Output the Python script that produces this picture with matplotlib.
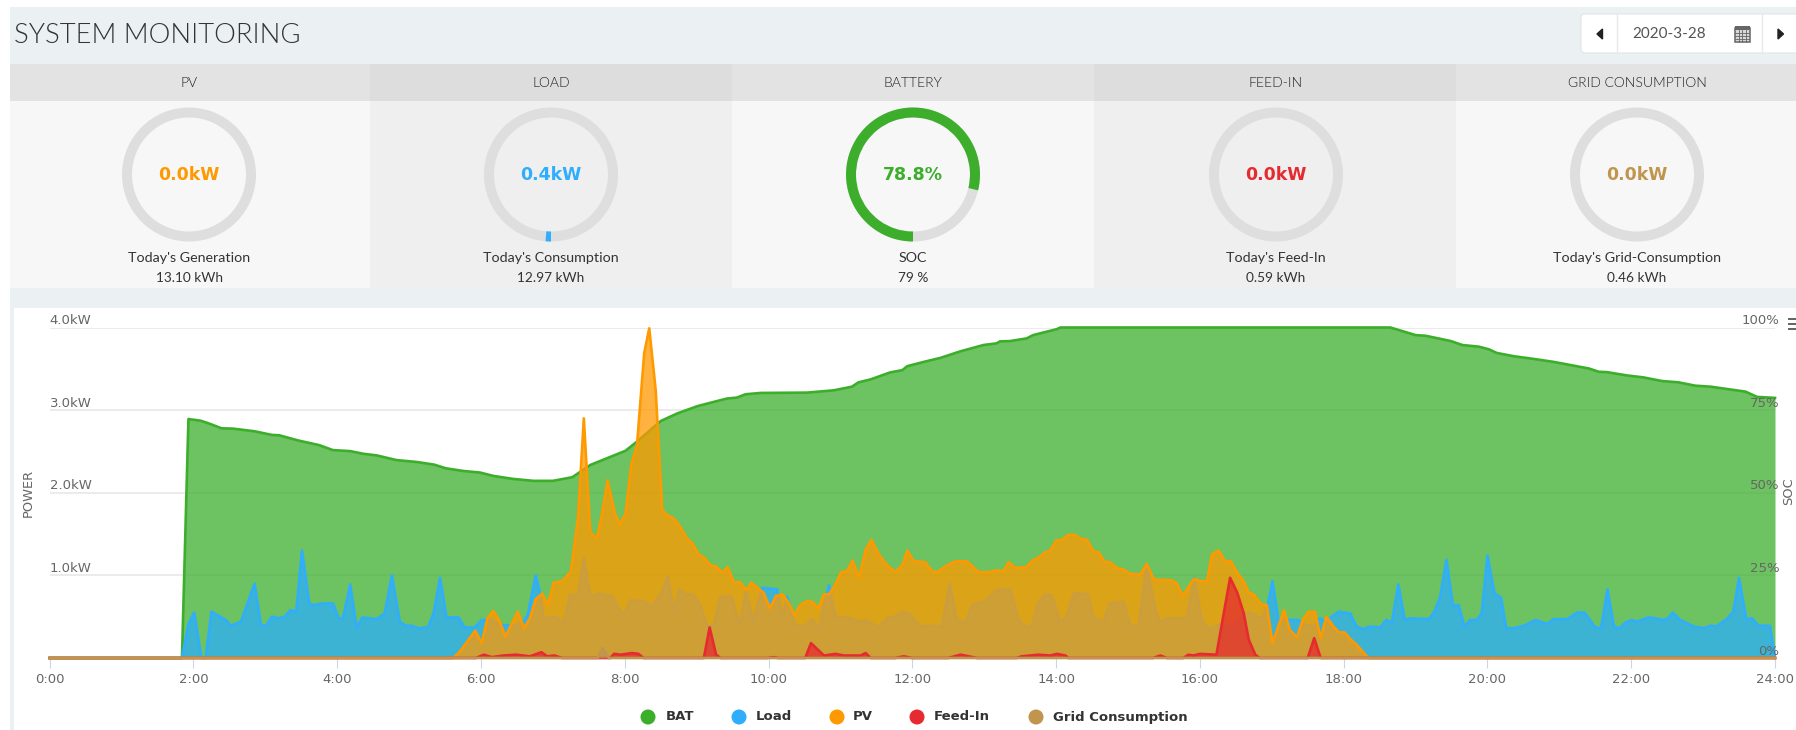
import matplotlib
matplotlib.use("Agg")
import matplotlib.pyplot as plt
from matplotlib.patches import Rectangle, Wedge, Circle, Polygon, FancyBboxPatch
from matplotlib.transforms import ScaledTranslation

W, H = 1796, 730

# card row
card_titles = ["PV", "LOAD", "BATTERY", "FEED-IN", "GRID CONSUMPTION"]
card_values = ["0.0kW", "0.4kW", "78.8%", "0.0kW", "0.0kW"]
card_fracs = [0.0, 0.013, 0.788, 0.0, 0.0]
card_labels = ["Today's Generation", "Today's Consumption", "SOC", "Today's Feed-In", "Today's Grid-Consumption"]
card_totals = ["13.10 kWh", "12.97 kWh", "79 %", "0.59 kWh", "0.46 kWh"]
card_colors = ["#ff9900", "#2eaefc", "#3cae2c", "#e52b2f", "#c0954e"]

# series, hours / kW (BAT in %)
bat_t = [0, 1.84, 1.93, 2.10, 2.21, 2.39, 2.55, 2.85, 3.09, 3.19, 3.46, 3.75, 3.94, 4.18, 4.36, 4.55, 4.82,
         5.11, 5.35, 5.51, 5.75, 5.99, 6.17, 6.44, 6.73, 7.0, 7.27, 7.52, 8.01, 8.17, 8.5, 8.73, 9.01, 9.24,
         9.42, 9.56, 9.68, 9.89, 10.54, 10.91, 11.16, 11.25, 11.42, 11.69, 11.86, 11.93, 12.16, 12.39, 12.67,
         12.99, 13.17, 13.22, 13.36, 13.59, 13.68, 14.01, 14.06, 18.65, 19.0, 19.14, 19.49, 19.65, 19.88,
         20.02, 20.13, 20.37, 20.64, 20.92, 21.41, 21.55, 21.66, 21.94, 22.17, 22.43, 22.66, 22.89, 23.1,
         23.33, 23.59, 23.75, 24]
bat_v = [0, 0, 72.3, 71.8, 71, 69.5, 69.4, 68.6, 67.5, 67.4, 65.8, 64.4, 62.9, 62.6, 61.8, 61.3, 59.9,
         59.3, 58.5, 57.4, 56.6, 56.1, 55.1, 54.2, 53.6, 53.6, 54.7, 58.4, 62.7, 65.5, 71.7, 74, 76.2, 77.5,
         78.5, 78.8, 79.8, 80.2, 80.3, 81, 82.1, 83.4, 84.3, 86.4, 87.1, 88.3, 89.6, 90.8, 92.8,
         94.7, 95.2, 95.8, 95.9, 96.7, 97.7, 99.5, 100, 100, 97.7, 97.5, 95.9, 94.7, 94.2,
         93.4, 92.3, 91.3, 90.5, 89.6, 87.6, 86.6, 86.5, 85.5, 84.9, 83.8, 83.4, 82.4, 82.1,
         81.4, 80.6, 79, 78.7]

load_t = [0, 1.84, 1.93, 2.01, 2.11, 2.17, 2.25, 2.37, 2.45, 2.52, 2.66, 2.85, 2.94, 3.01, 3.09, 3.19, 3.27,
          3.35, 3.43, 3.51, 3.61, 3.68, 3.78, 3.94, 4.02, 4.08, 4.18, 4.27, 4.35, 4.55, 4.66, 4.76, 4.87,
          4.95, 5.03, 5.14, 5.26, 5.34, 5.43, 5.52, 5.69, 5.77, 5.91, 6.01, 6.15, 6.25, 6.44, 6.57, 6.65,
          6.76, 6.83, 6.87, 7.04, 7.15, 7.24, 7.35, 7.43, 7.52, 7.62, 7.82, 7.96, 8.01, 8.08, 8.29, 8.36,
          8.5, 8.6, 8.68, 8.76, 8.84, 8.94, 9.03, 9.15, 9.24, 9.33, 9.49, 9.6, 9.69, 9.78, 9.91, 10.12,
          10.19, 10.26, 10.37, 10.49, 10.61, 10.69, 10.84, 10.93, 11.14, 11.25, 11.35, 11.53, 11.65, 11.76,
          11.86, 11.95, 12.11, 12.3, 12.41, 12.52, 12.62, 12.74, 12.83, 13.01, 13.17, 13.36, 13.48, 13.57,
          13.66, 13.75, 13.85, 13.94, 14.05, 14.15, 14.25, 14.44, 14.52, 14.66, 14.75, 14.94, 15.03, 15.15,
          15.26, 15.38, 15.45, 15.54, 15.82, 15.92, 16.03, 16.14, 16.26, 16.45, 16.63, 16.72, 16.86, 16.95,
          17.01, 17.09, 17.37, 17.46, 17.58, 17.67, 17.74, 17.93, 18.09, 18.18, 18.27, 18.37, 18.51, 18.59,
          18.67, 18.76, 18.85, 18.93, 19.18, 19.25, 19.34, 19.43, 19.52, 19.6, 19.68, 19.76, 19.85, 19.92,
          20.0, 20.1, 20.19, 20.26, 20.37, 20.51, 20.67, 20.83, 20.92, 21.11, 21.25, 21.35, 21.5, 21.58,
          21.67, 21.76, 21.84, 21.92, 22.01, 22.08, 22.24, 22.34, 22.44, 22.5, 22.58, 22.68, 22.87, 23.01,
          23.1, 23.18, 23.33, 23.42, 23.5, 23.6, 23.68, 23.77, 23.93, 24]
load_v = [0, 0, .41, .55, 0, 0, .56, .5, .46, .39, .44, .9, .39, .39, .5, .48, .5,
          .58, .56, 1.3, .66, .64, .66, .66, .48, .48, .89, .37, .49, .47, .54, 1.0, .44,
          .39, .39, .36, .37, .54, .97, .49, .49, .37, .37, .46, .46, .4, .39, .42, .52,
          1.0, .75, .48, .5, .42, .77, .75, 1.21, .73, .78, .75, .54, .55, .7, .68, .6,
          .77, .99, .56, .83, .77, .77, .68, .38, .4, .74, .74, .38, .83, .43, .85, .83,
          .48, .74, .4, .38, .47, .34, .88, .5, .48, .44, .46, .37, .48, .5,
          .56, .54, .38, .39, .37, .9, .46, .42, .64, .68, .82, .83, .46, .38,
          .38, .66, .77, .76, .44, .5, .79, .77, .48, .44, .66, .68, .39, .39,
          1.13, .58, .42, .48, .48, .97, .44, .35, .4, .38, .54, .54, .47, .66,
          .93, .46, .46, .4, .38, .48, .44, .56, .54, .38, .35, .38, .37, .46,
          .43, .89, .46, .48, .47, .54, .73, 1.19, .63, .64, .38, .46, .46, .54,
          1.24, .78, .73, .36, .36, .39, .46, .41, .47, .47, .55, .55, .37, .36,
          .83, .38, .36, .43, .46, .44, .49, .48, .46, .47, .55, .46, .38, .36,
          .39, .38, .47, .56, .97, .47, .48, .39, .39, 0]

pv_t = [0, 5.61, 5.69, 5.92, 6.01, 6.09, 6.17, 6.25, 6.34, 6.51, 6.6, 6.68, 6.76, 6.85, 6.93, 7.01, 7.13, 7.25,
        7.35, 7.43, 7.52, 7.61, 7.68, 7.76, 7.86, 7.93, 8.01, 8.09, 8.17, 8.27, 8.34, 8.43, 8.52, 8.59, 8.68,
        8.77, 8.87, 8.94, 9.03, 9.1, 9.19, 9.27, 9.35, 9.43, 9.52, 9.6, 9.69, 9.76, 9.93, 10.02, 10.1, 10.19,
        10.27, 10.36, 10.44, 10.54, 10.61, 10.69, 10.77, 10.84, 10.93, 11.01, 11.09, 11.17, 11.26, 11.35,
        11.43, 11.53, 11.63, 11.76, 11.86, 11.93, 12.02, 12.18, 12.27, 12.35, 12.48, 12.6, 12.76, 12.92,
        13.08, 13.17, 13.27, 13.34, 13.43, 13.59, 13.67, 13.75, 13.85, 13.92, 14.0, 14.08, 14.17, 14.26,
        14.34, 14.43, 14.52, 14.59, 14.68, 14.75, 14.84, 14.94, 15.02, 15.17, 15.26, 15.36, 15.61, 15.68,
        15.76, 15.92, 16.0, 16.1, 16.17, 16.26, 16.35, 16.43, 16.52, 16.61, 16.68, 16.75, 16.85, 16.93,
        17.01, 17.09, 17.17, 17.25, 17.35, 17.43, 17.51, 17.6, 17.68, 17.76, 17.86, 17.93, 18.01, 18.09,
        18.18, 18.32, 18.36, 24]
pv_v = [0, 0, .06, .33, .18, .48, .57, .46, .26, .56, .36, .48, .71, .78, .64, .91, .93, 1.05,
        1.71, 2.9, 1.52, 1.45, 1.73, 2.15, 1.76, 1.61, 1.75, 2.34, 2.58, 3.69, 3.99, 3.24, 1.79, 1.73, 1.69,
        1.59, 1.44, 1.39, 1.25, 1.22, 1.12, 1.11, 1.03, 1.1, .91, .92, .82, .91, .79, .6, .75, .77,
        .68, .52, .64, .69, .68, .6, .77, .77, .89, 1.04, 1.05, 1.18, .97, 1.31,
        1.43, 1.26, 1.14, 1.04, 1.12, 1.3, 1.17, 1.16, 1.05, 1.04, 1.12, 1.17, 1.17, 1.04,
        1.04, 1.06, 1.05, 1.16, 1.09, 1.1, 1.18, 1.21, 1.28, 1.3, 1.42, 1.43, 1.49, 1.49,
        1.44, 1.43, 1.29, 1.28, 1.16, 1.16, 1.09, 1.07, 1.02, 1.01, 1.14, .95, .94, .9,
        .75, .96, .93, .93, 1.26, 1.3, 1.17, 1.17, 1.03, .93, .79, .77, .65, .64,
        .18, .38, .58, .34, .25, .46, .56, .56, .24, .5, .38, .31, .31, .23,
        .16, .02, 0, 0]

feed_t = [0, 5.93, 6.04, 6.15, 6.31, 6.49, 6.68, 6.84, 6.92, 7.02, 7.13, 7.8, 7.85, 7.94, 8.1, 8.19, 8.26, 9.1,
          9.18, 9.27, 9.33, 9.98, 10.07, 10.14, 10.51, 10.59, 10.77, 10.93, 11.05, 11.28, 11.35, 11.42, 11.76,
          11.88, 12.0, 12.5, 12.67, 12.9, 13.45, 13.52, 13.64, 13.75, 13.92, 14.01, 14.13, 14.17, 15.35, 15.45,
          15.54, 15.77, 15.84, 15.91, 16.0, 16.23, 16.42, 16.52, 16.61, 16.68, 16.77, 16.83, 17.5, 17.59, 17.68, 24]
feed_v = [0, 0, .04, .01, .03, .04, .02, .07, .02, .03, 0, 0, .05, .04, .06, .05, 0, 0,
          .37, .04, 0, 0, .01, 0, 0, .18, .03, .05, .03, .03, .06, 0, 0,
          .02, 0, 0, .04, 0, 0, .02, .03, .04, .03, .05, .03, 0, 0, .03,
          0, 0, .04, .03, .05, .04, .97, .79, .54, .22, .04, 0, 0, .24, 0, 0]

grid_t = [0, 7.62, 7.69, 7.78, 24]
grid_v = [0, 0, .12, 0, 0]

series_names = ["BAT", "Load", "PV", "Feed-In", "Grid Consumption"]
series_colors = ["#3cae2c", "#2eaefc", "#ff9900", "#e52b2f", "#c0954e"]
legend_marker_x = [648, 739, 837, 917, 1036]
legend_text_x = [666, 756, 853, 934, 1053]

hours = list(range(0, 25, 2))
hour_labels = [f"{h}:00" for h in hours]
kw_ticks = [0, 1, 2, 3, 4]
kw_labels = ["", "1.0kW", "2.0kW", "3.0kW", "4.0kW"]
pct_ticks = [0, 25, 50, 75, 100]
pct_labels = ["0%", "25%", "50%", "75%", "100%"]

fig = plt.figure(figsize=(W / 100, H / 100), dpi=100, facecolor="white")

# page furniture in pixel coordinates
bg = fig.add_axes([0, 0, 1, 1], zorder=0)
bg.set_xlim(0, W)
bg.set_ylim(H, 0)
bg.axis("off")


def rect(x0, y0, x1, y1, color, z=1):
    bg.add_patch(Rectangle((x0, y0), x1 - x0, y1 - y0, facecolor=color, edgecolor="none", zorder=z))


rect(10, 7, W, 308, "#ebf0f3")
rect(10, 308, 14, H, "#ebf0f3")

bg.text(14, 35.5, "SYSTEM MONITORING", fontsize=19.7, family="Lato", weight=300, color="#333333",
        va="center", ha="left")

# date picker
bg.add_patch(FancyBboxPatch((1581, 14), 240, 39, boxstyle="round,pad=0,rounding_size=4",
                            facecolor="white", edgecolor="#e1e5e8", lw=0.8, zorder=2))
bg.plot([1616.5, 1616.5], [14, 53], color="#e8e8e8", lw=1, zorder=3)
bg.plot([1762, 1762], [14, 53], color="#e8e8e8", lw=1, zorder=3)
bg.add_patch(Polygon([[1602.5, 29], [1602.5, 39], [1597, 34]], color="#222222", zorder=3))
bg.add_patch(Polygon([[1778, 29], [1778, 39], [1783.5, 34]], color="#222222", zorder=3))
bg.text(1669, 34, "2020-3-28", fontsize=11, family="Lato", color="#555555", ha="center", va="center", zorder=3)
# calendar icon
bg.add_patch(Rectangle((1734.5, 28), 15, 14, facecolor="#d8d8d8", edgecolor="#666666", lw=1.1, zorder=3))
rect(1734.5, 26, 1749.5, 30, "#666666", 4)
for gx in [1738.5, 1742, 1745.5]:
    bg.plot([gx, gx], [30, 42], color="#666666", lw=0.6, zorder=4)
for gy in [33, 36, 39]:
    bg.plot([1735, 1749], [gy, gy], color="#666666", lw=0.6, zorder=4)

# cards
edges = [10, 370, 732, 1094, 1456, W]
centres = [189, 551, 913, 1276, 1637]
for i in range(5):
    shade = i % 2 == 1
    rect(edges[i], 64, edges[i + 1], 100.5, "#dddddd" if shade else "#e3e3e3")
    rect(edges[i], 100.5, edges[i + 1], 288, "#efefef" if shade else "#f7f7f7")
    cx = centres[i]
    bg.text(cx, 83, card_titles[i], fontsize=10, family="Lato", weight=300, color="#222222",
            ha="center", va="center", zorder=3)
    bg.add_patch(Wedge((cx, 174.5), 67, 0, 360, width=10, facecolor="#dedede", edgecolor="none", zorder=2))
    if card_fracs[i] > 0:
        bg.add_patch(Wedge((cx, 174.5), 67, 90, 90 + 360 * card_fracs[i], width=10,
                           facecolor=card_colors[i], edgecolor="none", zorder=3))
    bg.text(cx, 174.5, card_values[i], fontsize=12.5, family="DejaVu Sans", weight="bold",
            color=card_colors[i], ha="center", va="center", zorder=3)
    bg.text(cx, 258.5, card_labels[i], fontsize=10.3, family="Lato", color="#333333", ha="center", va="center", zorder=3)
    bg.text(cx, 278.5, card_totals[i], fontsize=9.8, family="Lato", color="#333333", ha="center", va="center", zorder=3)

# chart
left, right, top, bottom = 49.7, 1775, 327.5, 658
ax_pct = fig.add_axes([left / W, 1 - bottom / H, (right - left) / W, (bottom - top) / H], zorder=1)
ax_kw = ax_pct.twinx()
ax_kw.set_zorder(2)
# third layer only so the % labels stay on top of the fills
ax_lab = ax_pct.twinx()
ax_lab.set_zorder(3)
for a in (ax_pct, ax_kw, ax_lab):
    a.patch.set_alpha(0)

ax_pct.fill_between(bat_t, bat_v, color=series_colors[0], alpha=0.75, lw=0)
ax_pct.plot(bat_t, bat_v, color=series_colors[0], lw=1.9, clip_on=False)

for tt, vv, col, z in [(load_t, load_v, series_colors[1], 3), (pv_t, pv_v, series_colors[2], 4),
                       (feed_t, feed_v, series_colors[3], 5), (grid_t, grid_v, series_colors[4], 6)]:
    ax_kw.fill_between(tt, vv, color=col, alpha=0.75, lw=0, zorder=z)
    ax_kw.plot(tt, vv, color=col, lw=1.9, zorder=z, clip_on=False)

ax_pct.set_xlim(0, 24)
ax_pct.set_ylim(0, 100)
ax_kw.set_ylim(0, 4)
ax_lab.set_ylim(0, 100)

ax_kw.yaxis.tick_left()
ax_pct.set_yticks(pct_ticks)
ax_pct.tick_params(axis="y", length=0, labelleft=False, labelright=False)
ax_pct.grid(axis="y", color="#e6e6e6", lw=1.1)
ax_pct.set_axisbelow(True)

ax_lab.set_yticks(pct_ticks, pct_labels)
ax_kw.set_yticks(kw_ticks, kw_labels)
ax_lab.tick_params(axis="y", length=0, labelsize=9.5, labelcolor="#666666", pad=3)
ax_kw.tick_params(axis="y", length=0, labelsize=9.5, labelcolor="#666666", pad=0)
# labels sit just above their gridline
lift = ScaledTranslation(0, 2.5 / 72, fig.dpi_scale_trans)
for lab in ax_lab.get_yticklabels():
    lab.set_ha("right")
    lab.set_va("baseline")
    lab.set_transform(lab.get_transform() + lift)
for lab in ax_kw.get_yticklabels():
    lab.set_ha("left")
    lab.set_va("baseline")
    lab.set_transform(lab.get_transform() + lift)

# x axis lives on the % axes, twinx hides the other one
ax_pct.set_xticks(hours, hour_labels)
ax_pct.tick_params(axis="x", length=7.5, width=0.8, color="#ccd6eb", labelsize=9.5, labelcolor="#666666", pad=3)
for a in (ax_pct, ax_kw, ax_lab):
    for s in ["top", "left", "right"]:
        a.spines[s].set_visible(False)
    a.spines["bottom"].set_color("#ccd6eb")
ax_lab.spines["bottom"].set_visible(False)

bg.text(28, 493, "POWER", fontsize=9.4, color="#666666", rotation=90, ha="center", va="center")
bg.text(1789, 491, "SOC", fontsize=9.4, color="#666666", rotation=90, ha="center", va="center")

# export menu icon
for my in [319, 324, 329]:
    rect(1788, my - 1.2, 1796, my + 1.2, "#666666", 3)

# legend
for i, name in enumerate(series_names):
    bg.add_patch(Circle((legend_marker_x[i], 717), 7.5, facecolor=series_colors[i], edgecolor="none", zorder=3))
    bg.text(legend_text_x[i], 717, name, fontsize=9.5, weight="bold", color="#333333",
            ha="left", va="center", zorder=3)

fig.savefig("out.png", dpi=100)
